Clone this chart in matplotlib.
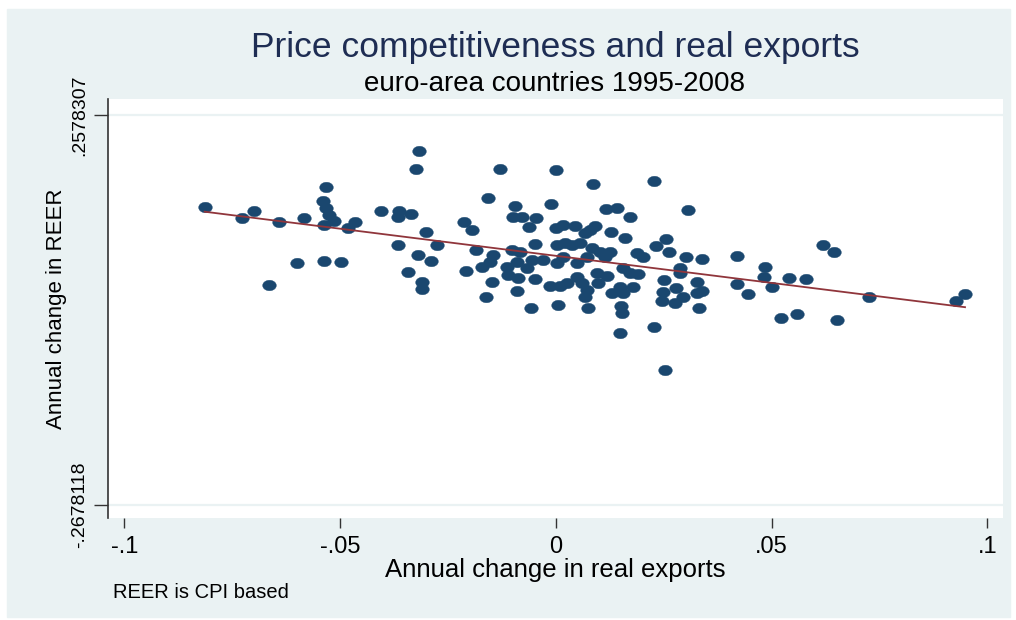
import numpy as np
from matplotlib import pyplot as plt
from matplotlib.patches import Rectangle

plt.rcParams['font.family'] = ['Liberation Sans', 'DejaVu Sans']

# annual change in real exports (x) and in REER (y)
exports = [
    -0.0814, -0.0728, -0.0700, -0.0642, -0.0584, -0.0533, -0.0540, -0.0533, -0.0526, -0.0515,
    -0.0538, -0.0466, -0.0482, -0.0600, -0.0665, -0.0538, -0.0498, -0.0406, -0.0364, -0.0366,
    -0.0336, -0.0318, -0.0325, -0.0301, -0.0276, -0.0366, -0.0320, -0.0290, -0.0343, -0.0311,
    -0.0311,
    -0.0130, 0.0000, -0.0158, -0.0095, -0.0012, -0.0100, -0.0079, -0.0046, -0.0063, -0.0213,
    -0.0195, 0.0000, 0.0016, 0.0044, 0.0067, -0.0049, -0.0185, -0.0102, -0.0083, 0.0002,
    0.0021, 0.0037, 0.0056, -0.0146, -0.0153, -0.0172, -0.0209, -0.0114, -0.0090, -0.0067,
    -0.0056, -0.0030, 0.0002, 0.0016, 0.0049, 0.0072, -0.0111, -0.0088, -0.0148, -0.0049,
    -0.0014, 0.0009, 0.0025, 0.0049, 0.0060, 0.0072, 0.0067, -0.0162, -0.0090, -0.0058,
    0.0005, 0.0074,
    0.0086, 0.0227, 0.0116, 0.0141, 0.0172, 0.0306, 0.0090, 0.0079, 0.0127, 0.0160,
    0.0255, 0.0232, 0.0262, 0.0301, 0.0338, 0.0188, 0.0202, 0.0083, 0.0102, 0.0125,
    0.0114, 0.0155, 0.0172, 0.0190, 0.0095, 0.0118, 0.0287, 0.0287, 0.0250, 0.0327,
    0.0097, 0.0148, 0.0178, 0.0155, 0.0130, 0.0248, 0.0278, 0.0294, 0.0246, 0.0276,
    0.0327, 0.0338, 0.0331, 0.0151, 0.0153, 0.0227, 0.0148, 0.0253,
    0.0420, 0.0484, 0.0482, 0.0420, 0.0445, 0.0501, 0.0540, 0.0580, 0.0619, 0.0644,
    0.0726, 0.0522, 0.0559, 0.0651, 0.0927, 0.0948,
]
reer = [
    0.1338, 0.1190, 0.1284, 0.1136, 0.1190, 0.1608, 0.1419, 0.1325, 0.1230, 0.1149,
    0.1096, 0.1136, 0.1055, 0.0583, 0.0287, 0.0610, 0.0597, 0.1284, 0.1284, 0.1203,
    0.1244, 0.2093, 0.1850, 0.1001, 0.0826, 0.0826, 0.0691, 0.0610, 0.0462, 0.0327,
    0.0233,
    0.1850, 0.1837, 0.1459, 0.1352, 0.1379, 0.1203, 0.1203, 0.1190, 0.1069, 0.1136,
    0.1028, 0.1055, 0.1096, 0.1082, 0.0988, 0.0839, 0.0759, 0.0759, 0.0732, 0.0826,
    0.0853, 0.0826, 0.0853, 0.0691, 0.0597, 0.0529, 0.0476, 0.0529, 0.0597, 0.0516,
    0.0624, 0.0624, 0.0583, 0.0664, 0.0583, 0.0664, 0.0422, 0.0381, 0.0327, 0.0368,
    0.0273, 0.0273, 0.0314, 0.0395, 0.0314, 0.0220, 0.0125, 0.0125, 0.0206, -0.0023,
    0.0017, -0.0023,
    0.1648, 0.1689, 0.1311, 0.1325, 0.1203, 0.1298, 0.1082, 0.1028, 0.1001, 0.0920,
    0.0907, 0.0813, 0.0732, 0.0664, 0.0637, 0.0718, 0.0664, 0.0786, 0.0732, 0.0732,
    0.0664, 0.0516, 0.0449, 0.0435, 0.0449, 0.0408, 0.0516, 0.0449, 0.0354, 0.0327,
    0.0314, 0.0260, 0.0260, 0.0179, 0.0179, 0.0193, 0.0246, 0.0125, 0.0071, 0.0044,
    0.0179, 0.0206, -0.0023, 0.0004, -0.0090, -0.0279, -0.0360, -0.0859,
    0.0678, 0.0529, 0.0395, 0.0300, 0.0166, 0.0260, 0.0381, 0.0368, 0.0826, 0.0732,
    0.0125, -0.0158, -0.0104, -0.0185, 0.0071, 0.0166,
]
x_ticks = [-0.1, -0.05, 0, 0.05, 0.1]
x_labels = ['-.1', '-.05', '0', '.05', '.1']
y_ticks = [-0.2678118, 0.2578307]
y_labels = ['-.2678118', '.2578307']

bg = '#EAF2F3'
navy = '#1A476F'

fig = plt.figure(figsize=(10.16, 6.2), dpi=100)
fig.patches.append(Rectangle((7 / 1016, 3 / 620), 1003 / 1016, 608 / 620,
                             transform=fig.transFigure, color=bg, zorder=-1))
ax = fig.add_axes([108 / 1016, 102 / 620, 895 / 1016, 419 / 620])

# stretched (oval) marker like the original
t = np.linspace(0, 2 * np.pi, 40)
oval = np.column_stack([np.cos(t), 0.77 * np.sin(t)])
ax.plot(exports, reer, linestyle='none', marker=oval, ms=9.8,
        color=navy, mec=navy, mew=0.3, zorder=3)

b, a = np.polyfit(exports, reer, 1)
xs = np.array([min(exports), max(exports)])
ax.plot(xs, a + b * xs, color='#90353B', lw=1.3, zorder=4)

ax.set_xlim(-0.1038, 0.1036)
ax.set_ylim(-0.2853, 0.2794)
ax.set_xticks(x_ticks)
ax.set_xticklabels(x_labels, fontsize=17)
ax.set_yticks(y_ticks)
ax.set_yticklabels(y_labels, fontsize=14, rotation=90, va='center')
ax.tick_params(axis='x', length=7, width=1, color='#333333', pad=6)
ax.tick_params(axis='y', length=10, width=1, color='#333333', pad=4)
ax.grid(axis='y', color=bg, lw=1.6)
ax.set_axisbelow(True)
for s in ['top', 'right', 'bottom']:
    ax.spines[s].set_visible(False)
ax.spines['left'].set_color('#333333')
ax.spines['left'].set_linewidth(1.2)

ax.set_xlabel('Annual change in real exports', fontsize=18.5, labelpad=0)
ax.set_ylabel('Annual change in REER', fontsize=16, labelpad=3)

fig.text(555 / 1016, 1 - 48 / 620, 'Price competitiveness and real exports',
         ha='center', va='center', fontsize=25.5, color='#1E2D53')
fig.text(555 / 1016, 1 - 84 / 620, 'euro-area countries 1995-2008',
         ha='center', va='center', fontsize=20, color='black')
fig.text(113 / 1016, 1 - 592 / 620, 'REER is CPI based',
         ha='left', va='center', fontsize=14.5, color='black')

plt.savefig('out.png', dpi=100)
